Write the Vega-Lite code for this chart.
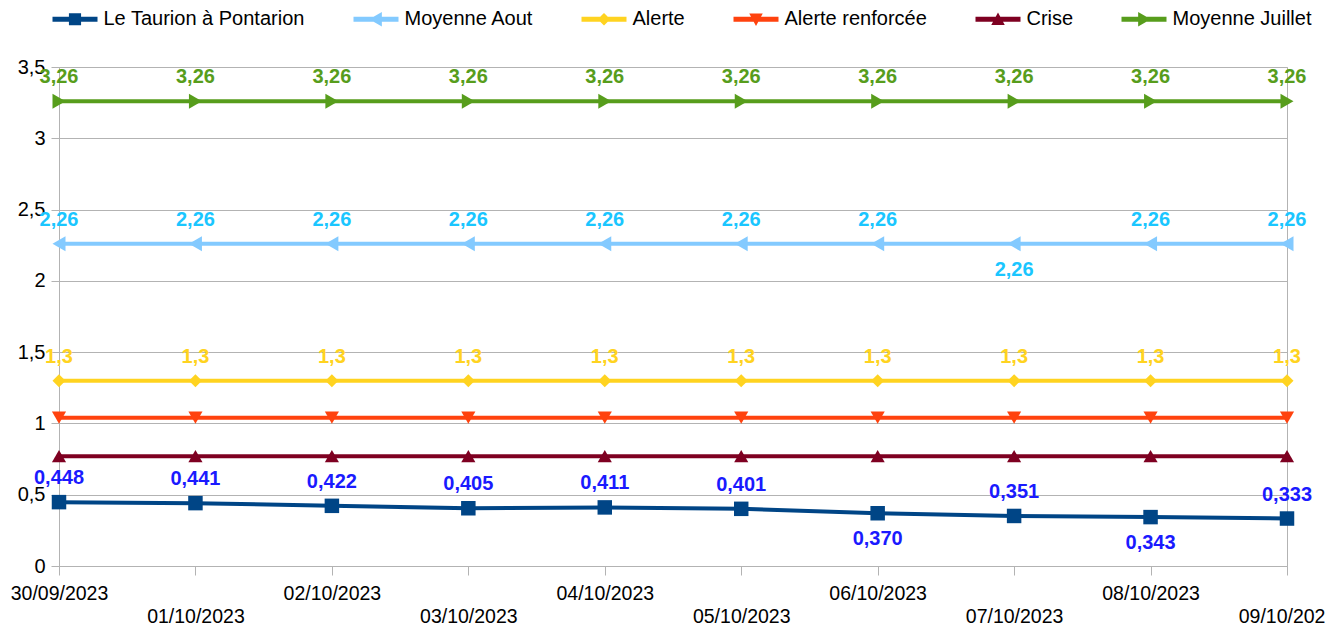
{
  "$schema": "https://vega.github.io/schema/vega-lite/v6.json",
  "width": 1228,
  "height": 499,
  "autosize": "none",
  "padding": {"left": 59, "top": 67, "right": 38, "bottom": 65},
  "background": "white",
  "config": {
    "font": "Liberation Sans",
    "view": {"stroke": "#b3b3b3", "strokeWidth": 1},
    "legend": {
      "title": null,
      "orient": "none",
      "direction": "horizontal",
      "legendX": -6.5,
      "legendY": -70.5,
      "padding": 0,
      "symbolSize": 2025,
      "symbolStrokeWidth": 0,
      "symbolOpacity": 1,
      "labelFontSize": 20,
      "labelColor": "#000000",
      "labelOffset": 6,
      "columnPadding": 48,
      "labelLimit": 400
    }
  },
  "data": {
    "values": [
      {"date": "30/09/2023", "series": "Le Taurion à Pontarion", "value": 0.448},
      {"date": "01/10/2023", "series": "Le Taurion à Pontarion", "value": 0.441},
      {"date": "02/10/2023", "series": "Le Taurion à Pontarion", "value": 0.422},
      {"date": "03/10/2023", "series": "Le Taurion à Pontarion", "value": 0.405},
      {"date": "04/10/2023", "series": "Le Taurion à Pontarion", "value": 0.411},
      {"date": "05/10/2023", "series": "Le Taurion à Pontarion", "value": 0.401},
      {"date": "06/10/2023", "series": "Le Taurion à Pontarion", "value": 0.370},
      {"date": "07/10/2023", "series": "Le Taurion à Pontarion", "value": 0.351},
      {"date": "08/10/2023", "series": "Le Taurion à Pontarion", "value": 0.343},
      {"date": "09/10/2023", "series": "Le Taurion à Pontarion", "value": 0.333},
      {"date": "30/09/2023", "series": "Moyenne Aout", "value": 2.26},
      {"date": "01/10/2023", "series": "Moyenne Aout", "value": 2.26},
      {"date": "02/10/2023", "series": "Moyenne Aout", "value": 2.26},
      {"date": "03/10/2023", "series": "Moyenne Aout", "value": 2.26},
      {"date": "04/10/2023", "series": "Moyenne Aout", "value": 2.26},
      {"date": "05/10/2023", "series": "Moyenne Aout", "value": 2.26},
      {"date": "06/10/2023", "series": "Moyenne Aout", "value": 2.26},
      {"date": "07/10/2023", "series": "Moyenne Aout", "value": 2.26},
      {"date": "08/10/2023", "series": "Moyenne Aout", "value": 2.26},
      {"date": "09/10/2023", "series": "Moyenne Aout", "value": 2.26},
      {"date": "30/09/2023", "series": "Alerte", "value": 1.3},
      {"date": "01/10/2023", "series": "Alerte", "value": 1.3},
      {"date": "02/10/2023", "series": "Alerte", "value": 1.3},
      {"date": "03/10/2023", "series": "Alerte", "value": 1.3},
      {"date": "04/10/2023", "series": "Alerte", "value": 1.3},
      {"date": "05/10/2023", "series": "Alerte", "value": 1.3},
      {"date": "06/10/2023", "series": "Alerte", "value": 1.3},
      {"date": "07/10/2023", "series": "Alerte", "value": 1.3},
      {"date": "08/10/2023", "series": "Alerte", "value": 1.3},
      {"date": "09/10/2023", "series": "Alerte", "value": 1.3},
      {"date": "30/09/2023", "series": "Alerte renforcée", "value": 1.04},
      {"date": "01/10/2023", "series": "Alerte renforcée", "value": 1.04},
      {"date": "02/10/2023", "series": "Alerte renforcée", "value": 1.04},
      {"date": "03/10/2023", "series": "Alerte renforcée", "value": 1.04},
      {"date": "04/10/2023", "series": "Alerte renforcée", "value": 1.04},
      {"date": "05/10/2023", "series": "Alerte renforcée", "value": 1.04},
      {"date": "06/10/2023", "series": "Alerte renforcée", "value": 1.04},
      {"date": "07/10/2023", "series": "Alerte renforcée", "value": 1.04},
      {"date": "08/10/2023", "series": "Alerte renforcée", "value": 1.04},
      {"date": "09/10/2023", "series": "Alerte renforcée", "value": 1.04},
      {"date": "30/09/2023", "series": "Crise", "value": 0.77},
      {"date": "01/10/2023", "series": "Crise", "value": 0.77},
      {"date": "02/10/2023", "series": "Crise", "value": 0.77},
      {"date": "03/10/2023", "series": "Crise", "value": 0.77},
      {"date": "04/10/2023", "series": "Crise", "value": 0.77},
      {"date": "05/10/2023", "series": "Crise", "value": 0.77},
      {"date": "06/10/2023", "series": "Crise", "value": 0.77},
      {"date": "07/10/2023", "series": "Crise", "value": 0.77},
      {"date": "08/10/2023", "series": "Crise", "value": 0.77},
      {"date": "09/10/2023", "series": "Crise", "value": 0.77},
      {"date": "30/09/2023", "series": "Moyenne Juillet", "value": 3.26},
      {"date": "01/10/2023", "series": "Moyenne Juillet", "value": 3.26},
      {"date": "02/10/2023", "series": "Moyenne Juillet", "value": 3.26},
      {"date": "03/10/2023", "series": "Moyenne Juillet", "value": 3.26},
      {"date": "04/10/2023", "series": "Moyenne Juillet", "value": 3.26},
      {"date": "05/10/2023", "series": "Moyenne Juillet", "value": 3.26},
      {"date": "06/10/2023", "series": "Moyenne Juillet", "value": 3.26},
      {"date": "07/10/2023", "series": "Moyenne Juillet", "value": 3.26},
      {"date": "08/10/2023", "series": "Moyenne Juillet", "value": 3.26},
      {"date": "09/10/2023", "series": "Moyenne Juillet", "value": 3.26}
    ]
  },
  "encoding": {
    "x": {
      "field": "date",
      "type": "nominal",
      "scale": {
        "type": "point",
        "padding": 0,
        "domain": ["30/09/2023","01/10/2023","02/10/2023","03/10/2023","04/10/2023","05/10/2023","06/10/2023","07/10/2023","08/10/2023","09/10/2023"]
      },
      "axis": {
        "title": null,
        "labelAngle": 0,
        "grid": false,
        "domainColor": "#b3b3b3",
        "tickColor": "#b3b3b3",
        "tickSize": 9,
        "labelFontSize": 19.5,
        "labelColor": "#000000",
        "labelPadding": 9,
        "labelOverlap": false,
        "labelLineHeight": 23,
        "labelExpr": "round(datum.index * 9) % 2 ? ['', datum.label] : datum.label"
      }
    },
    "y": {
      "field": "value",
      "type": "quantitative",
      "scale": {"domain": [0, 3.5], "nice": false, "zero": true},
      "axis": {
        "title": null,
        "values": [0, 0.5, 1, 1.5, 2, 2.5, 3, 3.5],
        "labelExpr": "replace(format(datum.value, ''), '.', ',')",
        "grid": true,
        "gridColor": "#b3b3b3",
        "domainColor": "#b3b3b3",
        "tickColor": "#b3b3b3",
        "tickSize": 8,
        "labelPadding": 6,
        "labelFontSize": 20,
        "labelColor": "#000000"
      }
    },
    "color": {
      "field": "series",
      "type": "nominal",
      "scale": {
        "domain": ["Le Taurion à Pontarion", "Moyenne Aout", "Alerte", "Alerte renforcée", "Crise", "Moyenne Juillet"],
        "range": ["#004586", "#83caff", "#ffd320", "#ff420e", "#7e0021", "#579d1c"]
      }
    }
  },
  "layer": [
    {
      "mark": {"type": "point", "filled": true, "size": 1},
      "encoding": {
        "shape": {
          "field": "series",
          "type": "nominal",
          "scale": {
            "domain": ["Le Taurion à Pontarion", "Moyenne Aout", "Alerte", "Alerte renforcée", "Crise", "Moyenne Juillet"],
            "range": [
              "M-1,-0.11H1V0.11H-1Z M-0.27,-0.27H0.27V0.27H-0.27Z",
              "M-1,-0.11H1V0.11H-1Z M-0.3,0L0.26,-0.32L0.26,0.32Z",
              "M-1,-0.11H1V0.11H-1Z M0,-0.28L0.28,0L0,0.28L-0.28,0Z",
              "M-1,-0.11H1V0.11H-1Z M-0.3,-0.26L0.3,-0.26L0,0.3Z",
              "M-1,-0.11H1V0.11H-1Z M-0.3,0.26L0,-0.3L0.3,0.26Z",
              "M-1,-0.11H1V0.11H-1Z M0.3,0L-0.26,0.32L-0.26,-0.32Z"
            ]
          }
        }
      }
    },
    {
      "mark": {"type": "line", "strokeWidth": 4}
    },
    {
      "mark": {"type": "point", "filled": true, "opacity": 1, "strokeWidth": 0},
      "encoding": {
        "shape": {
          "condition": [
            {"test": "datum.series == 'Le Taurion à Pontarion'", "value": "square"},
            {"test": "datum.series == 'Moyenne Aout'", "value": "triangle-left"},
            {"test": "datum.series == 'Alerte'", "value": "M-1,0L0,-1L1,0L0,1Z"},
            {"test": "datum.series == 'Alerte renforcée'", "value": "triangle-down"},
            {"test": "datum.series == 'Crise'", "value": "triangle-up"}
          ],
          "value": "triangle-right"
        },
        "size": {
          "condition": [
            {"test": "datum.series == 'Le Taurion à Pontarion'", "value": 210},
            {"test": "datum.series == 'Alerte'", "value": 170},
            {"test": "datum.series == 'Alerte renforcée' || datum.series == 'Crise'", "value": 200}
          ],
          "value": 225
        }
      }
    },
    {
      "transform": [
        {"filter": "datum.series != 'Alerte renforcée' && datum.series != 'Crise'"},
        {"filter": "!((datum.series == 'Le Taurion à Pontarion' && (datum.date == '06/10/2023' || datum.date == '08/10/2023')) || (datum.series == 'Moyenne Aout' && datum.date == '07/10/2023'))"},
        {"calculate": "replace(datum.series == 'Le Taurion à Pontarion' ? format(datum.value, '.3f') : format(datum.value, ''), '.', ',')", "as": "lbl"}
      ],
      "mark": {"type": "text", "fontWeight": "bold", "fontSize": 20, "baseline": "middle", "dy": -24},
      "encoding": {
        "text": {"field": "lbl"},
        "color": {
          "condition": [
            {"test": "datum.series == 'Le Taurion à Pontarion'", "value": "#1a1aff"},
            {"test": "datum.series == 'Moyenne Aout'", "value": "#1ac6ff"},
            {"test": "datum.series == 'Alerte'", "value": "#ffd320"}
          ],
          "value": "#579d1c"
        }
      }
    },
    {
      "transform": [
        {"filter": "(datum.series == 'Le Taurion à Pontarion' && (datum.date == '06/10/2023' || datum.date == '08/10/2023')) || (datum.series == 'Moyenne Aout' && datum.date == '07/10/2023')"},
        {"calculate": "replace(datum.series == 'Le Taurion à Pontarion' ? format(datum.value, '.3f') : format(datum.value, ''), '.', ',')", "as": "lbl"}
      ],
      "mark": {"type": "text", "fontWeight": "bold", "fontSize": 20, "baseline": "middle", "dy": 26},
      "encoding": {
        "text": {"field": "lbl"},
        "color": {
          "condition": [
            {"test": "datum.series == 'Le Taurion à Pontarion'", "value": "#1a1aff"}
          ],
          "value": "#1ac6ff"
        }
      }
    }
  ]
}
